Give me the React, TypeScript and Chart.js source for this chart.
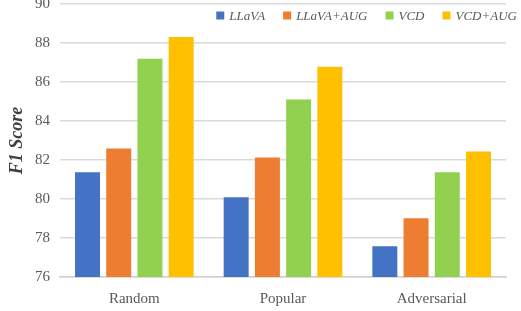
import React, { useEffect, useRef } from "react";
import { Chart, registerables } from "chart.js";

Chart.register(...registerables);

const categories = ["Random", "Popular", "Adversarial"];
const seriesNames = ["LLaVA", "LLaVA+AUG", "VCD", "VCD+AUG"];
const llava = [81.37, 80.09, 77.58];
const llavaAug = [82.59, 82.13, 79.01];
const vcd = [87.19, 85.1, 81.37];
const vcdAug = [88.31, 86.78, 82.44];
const seriesColors = ["#4472C4", "#ED7D31", "#92D050", "#FFC000"];
const yMin = 76;
const yMax = 90;
const yStep = 2;
const yTitle = "F1 Score";

const TOP_OFFSET = 15;

const legendPlugin = {
  id: "customLegend",
  afterDraw(chart: any) {
    const ctx = chart.ctx;
    ctx.save();
    ctx.font = "italic 13px 'Liberation Serif'";
    ctx.textBaseline = "middle";
    ctx.textAlign = "left";
    const box = 8;
    const gap = 5;
    const spacing = 18;
    const items = chart.data.datasets.map((ds: any) => ({
      label: ds.label,
      color: ds.backgroundColor,
      w: ctx.measureText(ds.label).width,
    }));
    const total =
      items.reduce((s: number, it: any) => s + box + gap + it.w, 0) +
      spacing * (items.length - 1);
    let x = 517 - total;
    const cy = 15.5 + TOP_OFFSET;
    items.forEach((it: any) => {
      ctx.fillStyle = it.color;
      ctx.fillRect(x, cy - box / 2, box, box);
      x += box + gap;
      ctx.fillStyle = "#595959";
      ctx.fillText(it.label, x, cy + 1);
      x += it.w + spacing;
    });
    ctx.restore();
  },
};

export default function App() {
  const ref = useRef<HTMLCanvasElement | null>(null);

  useEffect(() => {
    if (!ref.current) return;
    const series = [llava, llavaAug, vcd, vcdAug];
    const chart = new Chart(ref.current, {
      type: "bar",
      data: {
        labels: categories,
        datasets: series.map((d, i) => ({
          label: seriesNames[i],
          data: d,
          backgroundColor: seriesColors[i],
          borderWidth: 0,
          categoryPercentage: 0.84,
          barPercentage: 0.8,
        })),
      },
      options: {
        animation: false,
        responsive: true,
        maintainAspectRatio: false,
        layout: { padding: { top: 4, right: 15, left: 0, bottom: 0 } },
        plugins: {
          legend: { display: false },
          tooltip: { enabled: false },
        },
        scales: {
          x: {
            grid: { display: false },
            border: { display: true, color: "#d0d0d0", width: 1.5 },
            ticks: {
              color: "#595959",
              font: { family: "'Liberation Serif'", size: 15 },
              padding: 5,
            },
            afterFit: (scale: any) => {
              scale.height = 34;
            },
          },
          y: {
            min: yMin,
            max: yMax,
            border: { display: false },
            grid: { color: "#d9d9d9", lineWidth: 1.5, drawTicks: false },
            ticks: {
              stepSize: yStep,
              color: "#595959",
              font: { family: "'Liberation Serif'", size: 15 },
              padding: 10,
            },
            title: {
              display: true,
              text: yTitle,
              color: "#404040",
              font: {
                family: "'Liberation Serif'",
                size: 18,
                style: "italic",
                weight: "bold",
              },
              padding: { top: 7, bottom: 0 },
            },
            afterFit: (scale: any) => {
              scale.width = 60;
            },
          },
        },
      },
      plugins: [legendPlugin],
    });
    return () => chart.destroy();
  }, []);

  return (
    <div
      style={{
        position: "fixed",
        left: 0,
        top: -TOP_OFFSET,
        width: 521,
        height: 311 + TOP_OFFSET,
        background: "#ffffff",
      }}
    >
      <canvas ref={ref} />
    </div>
  );
}
